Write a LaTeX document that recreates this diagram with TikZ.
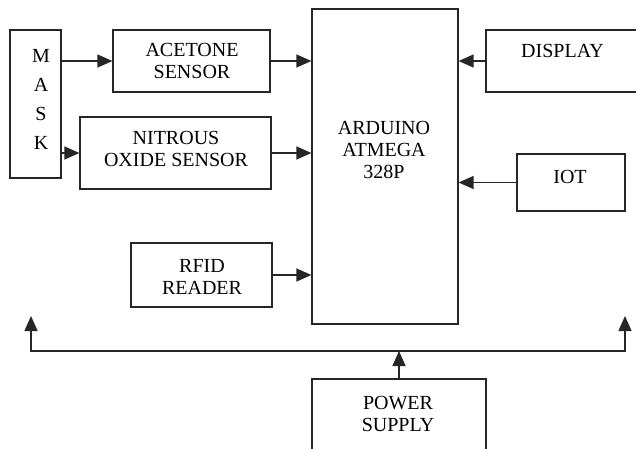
\documentclass[tikz,border=0pt]{standalone}
\usepackage{fontspec}
\setmainfont{Liberation Serif}
\usetikzlibrary{arrows.meta}
\begin{document}
\begin{tikzpicture}[x=1pt,y=-1pt,
  box/.style={draw=black!85, line width=1.2pt, rectangle, inner sep=0pt},
  lbl/.style={font=\fontsize{20}{22}\selectfont, align=center, inner sep=0pt},
  arr/.style={draw=black!85, line width=1.3pt, -{Triangle[length=15pt,width=13pt]}},
  arrb/.style={draw=black!85, line width=1.3pt, {Triangle[length=15pt,width=13pt]}-{Triangle[length=15pt,width=13pt]}}]
\useasboundingbox (0,0) rectangle (636,448);
% boxes
\node[box, minimum width=51pt, minimum height=148pt] (mask) at (35.5,104) {};
\node[lbl, font=\fontsize{20}{29}\selectfont] (masklbl) at (41,99) {M\\A\\S\\K};
\node[box, minimum width=157pt, minimum height=62pt] (acetone) at (191.5,61) {};
\node[lbl] (acetonelbl) at (192,61) {ACETONE\\SENSOR};
\node[box, minimum width=191pt, minimum height=72pt] (nitrous) at (175.5,153) {};
\node[lbl] (nitrouslbl) at (176,149) {NITROUS\\OXIDE SENSOR};
\node[box, minimum width=141pt, minimum height=64pt] (rfid) at (201.5,275) {};
\node[lbl] (rfidlbl) at (202,277) {RFID\\READER};
\node[box, minimum width=146pt, minimum height=315pt] (arduino) at (385,166.5) {};
\node[lbl] (arduinolbl) at (384,150) {ARDUINO\\ATMEGA\\328P};
\node[box, minimum width=156pt, minimum height=62pt] (display) at (564,61) {};
\node[lbl] (displaylbl) at (562.5,50.5) {DISPLAY};
\node[box, minimum width=108pt, minimum height=57pt] (iot) at (571,182.5) {};
\node[lbl] (iotlbl) at (570,177) {IOT};
\node[box, minimum width=174pt, minimum height=74pt] (power) at (399,416) {};
\node[lbl] (powerlbl) at (398,413.5) {POWER\\SUPPLY};
% connectors
\draw[arr] (mask.east |- acetone.west) -- (acetone.west);
\draw[arr] (mask.east |- nitrous.west) -- (nitrous.west);
\draw[arr] (acetone.east) -- (arduino.west |- acetone.east);
\draw[arr] (nitrous.east) -- (arduino.west |- nitrous.east);
\draw[arr] (rfid.east) -- (arduino.west |- rfid.east);
\draw[arr] (display.west) -- (arduino.east |- display.west);
\draw[arr] (iot.west) -- (arduino.east |- iot.west);
\coordinate (tipL) at (31,316);
\coordinate (busL) at (31,351);
\coordinate (busR) at (625,351);
\coordinate (tipR) at (625,316);
\draw[arrb] (tipL) -- (busL) -- (busR) -- (tipR);
\draw[arr] (power.north) -- (power.north |- busL);
\end{tikzpicture}
\end{document}
